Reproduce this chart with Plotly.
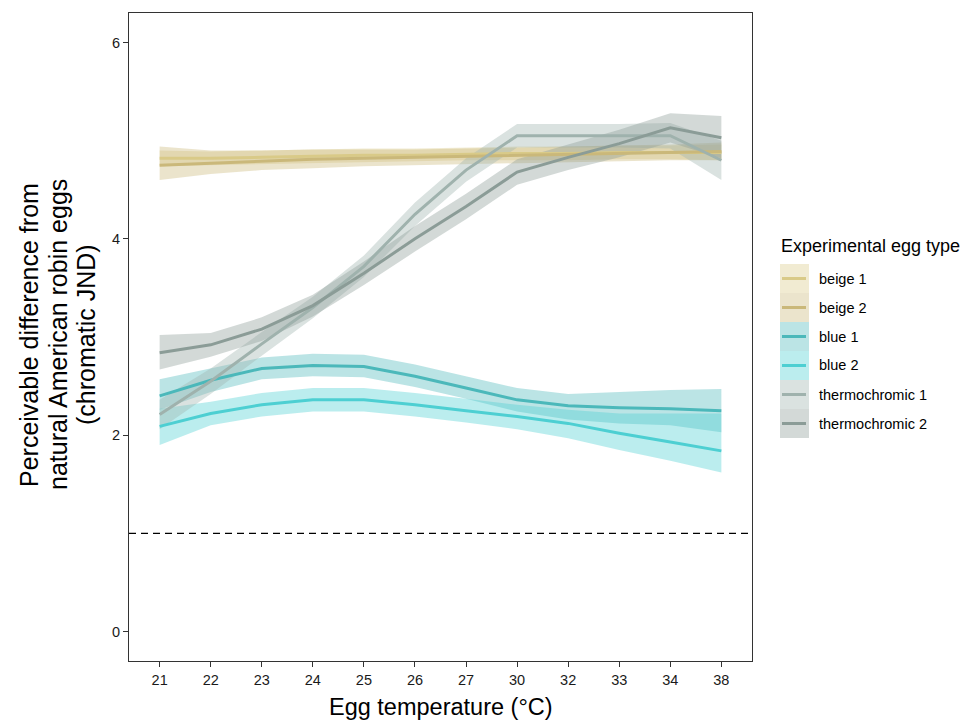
import plotly.graph_objects as go

temps = ["21", "22", "23", "24", "25", "26", "27", "30", "32", "33", "34", "38"]

egg_types = ["beige 1", "beige 2", "blue 1", "blue 2", "thermochromic 1", "thermochromic 2"]

beige1 = [4.82, 4.82, 4.83, 4.84, 4.85, 4.85, 4.86, 4.87, 4.87, 4.88, 4.88, 4.88]
beige1_lo = [4.74, 4.75, 4.76, 4.77, 4.78, 4.79, 4.80, 4.80, 4.80, 4.81, 4.81, 4.80]
beige1_hi = [4.90, 4.89, 4.90, 4.91, 4.92, 4.92, 4.93, 4.94, 4.94, 4.95, 4.95, 4.96]

beige2 = [4.75, 4.77, 4.79, 4.81, 4.82, 4.83, 4.84, 4.85, 4.86, 4.87, 4.88, 4.89]
beige2_lo = [4.60, 4.66, 4.70, 4.72, 4.74, 4.75, 4.76, 4.77, 4.78, 4.79, 4.80, 4.80]
beige2_hi = [4.94, 4.90, 4.90, 4.91, 4.91, 4.91, 4.92, 4.93, 4.94, 4.95, 4.96, 4.98]

blue1 = [2.40, 2.56, 2.68, 2.71, 2.70, 2.60, 2.48, 2.36, 2.30, 2.28, 2.27, 2.25]
blue1_lo = [2.26, 2.44, 2.57, 2.60, 2.59, 2.49, 2.37, 2.24, 2.16, 2.12, 2.10, 2.03]
blue1_hi = [2.57, 2.68, 2.79, 2.83, 2.82, 2.72, 2.60, 2.48, 2.42, 2.44, 2.46, 2.47]

blue2 = [2.09, 2.22, 2.31, 2.36, 2.36, 2.31, 2.25, 2.19, 2.12, 2.02, 1.93, 1.84]
blue2_lo = [1.90, 2.10, 2.19, 2.24, 2.24, 2.19, 2.13, 2.06, 1.97, 1.85, 1.74, 1.62]
blue2_hi = [2.27, 2.34, 2.43, 2.48, 2.48, 2.43, 2.37, 2.31, 2.26, 2.22, 2.22, 2.22]

thermo1 = [2.21, 2.55, 2.93, 3.30, 3.72, 4.25, 4.70, 5.05, 5.05, 5.05, 5.05, 4.80]
thermo1_lo = [2.06, 2.42, 2.81, 3.19, 3.61, 4.13, 4.58, 4.93, 4.93, 4.93, 4.92, 4.60]
thermo1_hi = [2.36, 2.68, 3.05, 3.41, 3.83, 4.37, 4.82, 5.17, 5.17, 5.17, 5.18, 5.00]

thermo2 = [2.84, 2.92, 3.08, 3.32, 3.65, 4.00, 4.33, 4.68, 4.83, 4.97, 5.13, 5.03]
thermo2_lo = [2.67, 2.80, 2.96, 3.21, 3.53, 3.87, 4.20, 4.55, 4.70, 4.83, 4.98, 4.82]
thermo2_hi = [3.02, 3.04, 3.20, 3.43, 3.77, 4.13, 4.46, 4.81, 4.96, 5.11, 5.28, 5.25]

means = [beige1, beige2, blue1, blue2, thermo1, thermo2]
lows = [beige1_lo, beige2_lo, blue1_lo, blue2_lo, thermo1_lo, thermo2_lo]
highs = [beige1_hi, beige2_hi, blue1_hi, blue2_hi, thermo1_hi, thermo2_hi]

y_title_lines = ["Perceivable difference from", "natural American robin eggs", "(chromatic JND)"]
x_title = "Egg temperature (°C)"
legend_title = "Experimental egg type"

line_colors = ["#d9ca88", "#cab87a", "#4bb8ba", "#4dcfd2", "#9fb2ad", "#8b9c97"]
alpha = 0.38


def rgba(hexc, a):
    h = hexc.lstrip("#")
    r, g, b = int(h[0:2], 16), int(h[2:4], 16), int(h[4:6], 16)
    return f"rgba({r},{g},{b},{a})"


fig = go.Figure()

for name, lo, hi, col in zip(egg_types, lows, highs, line_colors):
    fig.add_trace(go.Scatter(
        x=temps + temps[::-1], y=hi + lo[::-1], fill="toself",
        fillcolor=rgba(col, alpha), line=dict(width=0), mode="lines",
        hoverinfo="skip", showlegend=False, name=name))

for name, m, col in zip(egg_types, means, line_colors):
    fig.add_trace(go.Scatter(
        x=temps, y=m, mode="lines", line=dict(color=col, width=3),
        showlegend=False, name=name))

# reference line at JND = 1
fig.add_shape(type="line", xref="paper", x0=0, x1=1, yref="y", y0=1, y1=1,
              line=dict(color="black", width=1.3, dash="7px,5px"))

# page-pixel helpers (plot panel spans x 129..752, y 13..661 on the page)
W, H = 623.0, 648.0
L, B = 129.0, 661.0


def px(xp):
    return (xp - L) / W


def py(yp):
    return (B - yp) / H


# axis titles
fig.add_annotation(text=x_title, xref="paper", yref="paper", x=px(441), y=py(707),
                   xanchor="center", yanchor="middle", showarrow=False,
                   font=dict(size=23.5, color="black"))
for xc, t in zip([29, 58, 86], y_title_lines):
    fig.add_annotation(text=t, xref="paper", yref="paper", x=px(xc), y=py(335),
                       xanchor="center", yanchor="middle", textangle=-90,
                       showarrow=False, font=dict(size=25, color="black"))

# manual legend (ggplot style, with ribbon-filled keys)
fig.add_annotation(text=legend_title, xref="paper", yref="paper",
                   x=px(779), y=py(246), xanchor="left", yanchor="middle",
                   showarrow=False, font=dict(size=18, color="black"))
key_top = 264.0
key_h = 29.0
for i, (name, col) in enumerate(zip(egg_types, line_colors)):
    y0 = key_top + i * key_h
    fig.add_shape(type="rect", xref="paper", yref="paper",
                  x0=px(780), x1=px(809), y0=py(y0), y1=py(y0 + key_h),
                  fillcolor=rgba(col, alpha), line=dict(width=0), layer="below")
    fig.add_shape(type="line", xref="paper", yref="paper",
                  x0=px(782), x1=px(806), y0=py(y0 + key_h / 2), y1=py(y0 + key_h / 2),
                  line=dict(color=col, width=3))
    fig.add_annotation(text=name, xref="paper", yref="paper",
                       x=px(817), y=py(y0 + key_h / 2), xanchor="left", yanchor="middle",
                       showarrow=False, font=dict(size=14.5, color="black"))

fig.update_layout(
    width=966, height=714,
    margin=dict(l=121, r=222, t=5, b=61),
    plot_bgcolor="white", paper_bgcolor="white",
    font=dict(family="Liberation Sans, Arial, sans-serif", color="black"),
    showlegend=False,
)
fig.update_xaxes(
    type="category", categoryorder="array", categoryarray=temps,
    range=[-0.6, 11.6], showgrid=False, zeroline=False,
    showline=True, linecolor="#333333", linewidth=1.2, mirror=True,
    ticks="outside", ticklen=5, tickcolor="#333333", tickwidth=1.2,
    tickfont=dict(size=14.5, color="#1a1a1a"),
)
fig.update_yaxes(
    range=[-0.3, 6.3], tickvals=[0, 2, 4, 6], showgrid=False, zeroline=False,
    showline=True, linecolor="#333333", linewidth=1.2, mirror=True,
    ticks="outside", ticklen=5, tickcolor="#333333", tickwidth=1.2,
    tickfont=dict(size=14.5, color="#1a1a1a"),
)

fig.write_html("out.html")
